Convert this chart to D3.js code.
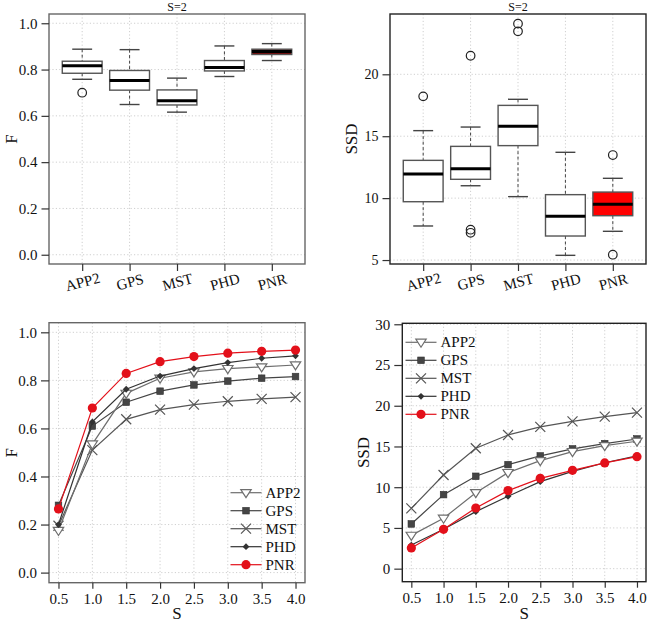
<!DOCTYPE html>
<html>
<head>
<meta charset="utf-8">
<script src="https://cdn.jsdelivr.net/npm/d3@7"></script>
<style>
  html, body { margin: 0; padding: 0; background: #fff; }
  svg { display: block; font-family: "Liberation Serif", "DejaVu Serif", serif; }
</style>
</head>
<body>
<svg id="chart" width="647" height="624"></svg>
<script>
// ---------------- DATA ----------------
const methods = ["APP2", "GPS", "MST", "PHD", "PNR"];

// Box plots at S=2 : [lowWhisker, Q1, median, Q3, highWhisker]
const boxF = [
  [0.758, 0.784, 0.816, 0.836, 0.888],
  [0.649, 0.711, 0.753, 0.796, 0.886],
  [0.616, 0.647, 0.665, 0.712, 0.763],
  [0.770, 0.794, 0.809, 0.839, 0.902],
  [0.839, 0.865, 0.878, 0.888, 0.912]
];
const outliersF = [[0.70], [], [], [], []];

const boxSSD = [
  [7.75, 9.71, 11.95, 13.05, 15.45],
  [11.0, 11.52, 12.38, 14.18, 15.74],
  [10.12, 14.24, 15.80, 17.49, 17.98],
  [5.38, 6.94, 8.53, 10.28, 13.70],
  [7.32, 8.58, 9.50, 10.49, 11.60]
];
const outliersSSD = [[18.22], [21.5, 7.45, 7.2], [24.09, 23.47], [], [13.48, 5.43]];

// Line charts over S
const sValues = [0.5, 1.0, 1.5, 2.0, 2.5, 3.0, 3.5, 4.0];
const lineF = {
  APP2: [0.175, 0.535, 0.746, 0.809, 0.835, 0.849, 0.856, 0.864],
  GPS:  [0.280, 0.610, 0.709, 0.755, 0.781, 0.797, 0.809, 0.816],
  MST:  [0.195, 0.510, 0.638, 0.678, 0.699, 0.713, 0.723, 0.730],
  PHD:  [0.200, 0.627, 0.763, 0.818, 0.849, 0.874, 0.892, 0.902],
  PNR:  [0.265, 0.685, 0.829, 0.878, 0.899, 0.913, 0.921, 0.926]
};
const lineSSD = {
  APP2: [4.09, 6.18, 9.33, 11.79, 13.26, 14.37, 15.10, 15.64],
  GPS:  [5.49, 9.09, 11.34, 12.77, 13.84, 14.70, 15.35, 15.92],
  MST:  [7.41, 11.50, 14.78, 16.41, 17.40, 18.09, 18.67, 19.16],
  PHD:  [2.90, 4.83, 7.00, 8.88, 10.68, 11.95, 13.00, 13.85],
  PNR:  [2.54, 4.83, 7.45, 9.58, 11.09, 12.07, 12.98, 13.75]
};

const ticksF = [0.0, 0.2, 0.4, 0.6, 0.8, 1.0];
const ticksSSDbox = [5, 10, 15, 20];
const ticksSSDline = [0, 5, 10, 15, 20, 25, 30];
const ticksS = [0.5, 1.0, 1.5, 2.0, 2.5, 3.0, 3.5, 4.0];

// ---------------- STYLE ----------------
const styles = {
  APP2: { color: "#6e6e6e", marker: "tri" },
  GPS:  { color: "#454545", marker: "square" },
  MST:  { color: "#555555", marker: "x" },
  PHD:  { color: "#333333", marker: "diamond" },
  PNR:  { color: "#e3101a", marker: "circle" }
};

const svg = d3.select("#chart");
const gridColor = "#cfcfcf";

function drawMarker(g, type, color, x, y) {
  if (type === "tri") {
    const r = 5.2;
    g.append("path")
      .attr("d", `M${x - r},${y - r * 0.6} L${x + r},${y - r * 0.6} L${x},${y + r * 0.95} Z`)
      .attr("fill", "#fff").attr("stroke", color).attr("stroke-width", 1.2);
  } else if (type === "square") {
    g.append("rect").attr("x", x - 3.3).attr("y", y - 3.3).attr("width", 6.6).attr("height", 6.6)
      .attr("fill", color).attr("stroke", "#333").attr("stroke-width", 0.6);
  } else if (type === "x") {
    const r = 5;
    g.append("path").attr("d", `M${x - r},${y - r} L${x + r},${y + r} M${x - r},${y + r} L${x + r},${y - r}`)
      .attr("stroke", color).attr("stroke-width", 1.2).attr("fill", "none");
  } else if (type === "diamond") {
    const r = 3.4;
    g.append("path").attr("d", `M${x},${y - r} L${x + r},${y} L${x},${y + r} L${x - r},${y} Z`)
      .attr("fill", color);
  } else if (type === "circle") {
    g.append("circle").attr("cx", x).attr("cy", y).attr("r", 4.6).attr("fill", color);
  }
}

function frameAndGrid(g, x0, x1, y0, y1, xGrid, yGrid) {
  g.selectAll(".gx").data(xGrid).join("line")
    .attr("x1", d => d).attr("x2", d => d).attr("y1", y0).attr("y2", y1)
    .attr("stroke", gridColor).attr("stroke-width", 1).attr("stroke-dasharray", "1.2,2.2");
  g.selectAll(".gy").data(yGrid).join("line")
    .attr("y1", d => d).attr("y2", d => d).attr("x1", x0).attr("x2", x1)
    .attr("stroke", gridColor).attr("stroke-width", 1).attr("stroke-dasharray", "1.2,2.2");
}

function frame(g, x0, x1, y0, y1, color) {
  g.append("rect").attr("x", x0).attr("y", y0).attr("width", x1 - x0).attr("height", y1 - y0)
    .attr("fill", "none").attr("stroke", color).attr("stroke-width", 1.4);
}

function styleAxis(sel, fontSize) {
  sel.select(".domain").remove();
  sel.selectAll(".tick line").attr("stroke", "#333").attr("stroke-width", 1.2);
  sel.selectAll(".tick text").attr("fill", "#111").style("font-size", fontSize + "px")
    .style("font-family", "'Liberation Serif', serif");
}

// --------------- BOX PANELS ---------------
function boxPanel(cfg) {
  const g = svg.append("g");
  const x = d3.scaleLinear().domain([0.3, 5.7]).range([cfg.x0, cfg.x1]);
  const y = d3.scaleLinear().domain(cfg.yDomain).range([cfg.y1, cfg.y0]);
  const idx = methods.map((m, i) => i + 1);

  frameAndGrid(g, cfg.x0, cfg.x1, cfg.y0, cfg.y1, idx.map(x), cfg.ticks.map(y));

  const bw = (x(2) - x(1)) * 0.84;
  const cw = bw * 0.5;
  cfg.boxes.forEach((b, i) => {
    const cx = x(i + 1);
    const [lo, q1, med, q3, hi] = b;
    g.append("line").attr("x1", cx).attr("x2", cx).attr("y1", y(hi)).attr("y2", y(q3))
      .attr("stroke", "#444").attr("stroke-width", 1).attr("stroke-dasharray", "3,2.5");
    g.append("line").attr("x1", cx).attr("x2", cx).attr("y1", y(q1)).attr("y2", y(lo))
      .attr("stroke", "#444").attr("stroke-width", 1).attr("stroke-dasharray", "3,2.5");
    [hi, lo].forEach(v => g.append("line").attr("x1", cx - cw / 2).attr("x2", cx + cw / 2)
      .attr("y1", y(v)).attr("y2", y(v)).attr("stroke", "#444").attr("stroke-width", 1.4));
    g.append("rect").attr("x", cx - bw / 2).attr("y", y(q3)).attr("width", bw).attr("height", y(q1) - y(q3))
      .attr("fill", cfg.fills[i]).attr("stroke", "#555").attr("stroke-width", 1.4);
    g.append("line").attr("x1", cx - bw / 2).attr("x2", cx + bw / 2).attr("y1", y(med)).attr("y2", y(med))
      .attr("stroke", "#000").attr("stroke-width", 3);
    cfg.outliers[i].forEach(v => g.append("circle").attr("cx", cx).attr("cy", y(v)).attr("r", 4.3)
      .attr("fill", "none").attr("stroke", "#222").attr("stroke-width", 1.2));
  });

  frame(g, cfg.x0, cfg.x1, cfg.y0, cfg.y1, cfg.frameColor);

  const ya = g.append("g").attr("transform", `translate(${cfg.x0},0)`)
    .call(d3.axisLeft(y).tickValues(cfg.ticks).tickFormat(cfg.fmt).tickSize(7.5).tickPadding(4));
  styleAxis(ya, cfg.tickFont);

  const xa = g.append("g").attr("transform", `translate(0,${cfg.y1})`)
    .call(d3.axisBottom(x).tickValues(idx).tickFormat(d => methods[d - 1]).tickSize(7).tickPadding(4));
  styleAxis(xa, 15);
  xa.selectAll(".tick text").attr("dy", null).attr("y", 23)
    .attr("transform", "rotate(-15, 0, 18)").attr("text-anchor", "middle");

  g.append("text").attr("x", (cfg.x0 + cfg.x1) / 2).attr("y", 11).attr("text-anchor", "middle")
    .style("font-size", "12px").attr("fill", "#111").text("S=2");

  g.append("text").attr("transform", `translate(${cfg.labX},${(cfg.y0 + cfg.y1) / 2}) rotate(-90)`)
    .attr("text-anchor", "middle").style("font-size", "17px").attr("fill", "#111").text(cfg.label);
}

boxPanel({
  x0: 49, x1: 305, y0: 14, y1: 264, yDomain: [-0.04, 1.04],
  boxes: boxF, outliers: outliersF, ticks: ticksF, fmt: d3.format(".1f"),
  fills: ["#fff", "#fff", "#fff", "#fff", "#7a0606"], frameColor: "#666",
  tickFont: 15, label: "F", labX: 17
});
boxPanel({
  x0: 390, x1: 646, y0: 14, y1: 264, yDomain: [4.68, 24.87],
  boxes: boxSSD, outliers: outliersSSD, ticks: ticksSSDbox, fmt: d3.format("d"),
  fills: ["#fff", "#fff", "#fff", "#fff", "#ff0000"], frameColor: "#222",
  tickFont: 14, label: "SSD", labX: 357
});

// --------------- LINE PANELS ---------------
function linePanel(cfg) {
  const g = svg.append("g");
  const x = d3.scaleLinear().domain([0.36, 4.14]).range([cfg.x0, cfg.x1]);
  const y = d3.scaleLinear().domain(cfg.yDomain).range([cfg.y1, cfg.y0]);

  frameAndGrid(g, cfg.x0, cfg.x1, cfg.y0, cfg.y1, ticksS.map(x), cfg.ticks.map(y));

  const line = d3.line().x((d, i) => x(sValues[i])).y(d => y(d));
  const order = ["MST", "GPS", "APP2", "PHD", "PNR"];
  order.forEach(m => {
    const st = styles[m];
    g.append("path").attr("d", line(cfg.data[m])).attr("fill", "none")
      .attr("stroke", st.color).attr("stroke-width", 1.2);
    cfg.data[m].forEach((v, i) => drawMarker(g, st.marker, st.color, x(sValues[i]), y(v)));
  });

  frame(g, cfg.x0, cfg.x1, cfg.y0, cfg.y1, cfg.frameColor);

  const ya = g.append("g").attr("transform", `translate(${cfg.x0},0)`)
    .call(d3.axisLeft(y).tickValues(cfg.ticks).tickFormat(cfg.fmt).tickSize(8).tickPadding(4));
  styleAxis(ya, 15);
  const xa = g.append("g").attr("transform", `translate(0,${cfg.y1})`)
    .call(d3.axisBottom(x).tickValues(ticksS).tickFormat(d3.format(".1f")).tickSize(6).tickPadding(5));
  styleAxis(xa, 15);

  g.append("text").attr("x", (cfg.x0 + cfg.x1) / 2).attr("y", 619).attr("text-anchor", "middle")
    .style("font-size", "17px").attr("fill", "#111").text("S");
  g.append("text").attr("transform", `translate(${cfg.labX},${(cfg.y0 + cfg.y1) / 2}) rotate(-90)`)
    .attr("text-anchor", "middle").style("font-size", "17px").attr("fill", "#111").text(cfg.label);

  methods.forEach((m, i) => {
    const st = styles[m];
    const ly = cfg.legY + i * 18;
    g.append("line").attr("x1", cfg.legX).attr("x2", cfg.legX + 31).attr("y1", ly).attr("y2", ly)
      .attr("stroke", st.color).attr("stroke-width", 1.2);
    drawMarker(g, st.marker, st.color, cfg.legX + 15.5, ly);
    g.append("text").attr("x", cfg.legX + 35).attr("y", ly + 5).style("font-size", "15px")
      .attr("fill", "#111").text(m);
  });
}

linePanel({
  x0: 49, x1: 305, y0: 322.7, y1: 582.7, yDomain: [-0.042, 1.04],
  data: lineF, ticks: ticksF, fmt: d3.format(".1f"), frameColor: "#666",
  label: "F", labX: 17, legX: 230.5, legY: 492.7
});
linePanel({
  x0: 402.3, x1: 646, y0: 323.3, y1: 581.7, yDomain: [-1.6, 30.12],
  data: lineSSD, ticks: ticksSSDline, fmt: d3.format("d"), frameColor: "#222",
  label: "SSD", labX: 369, legX: 405.5, legY: 342.3
});
</script>
</body>
</html>
